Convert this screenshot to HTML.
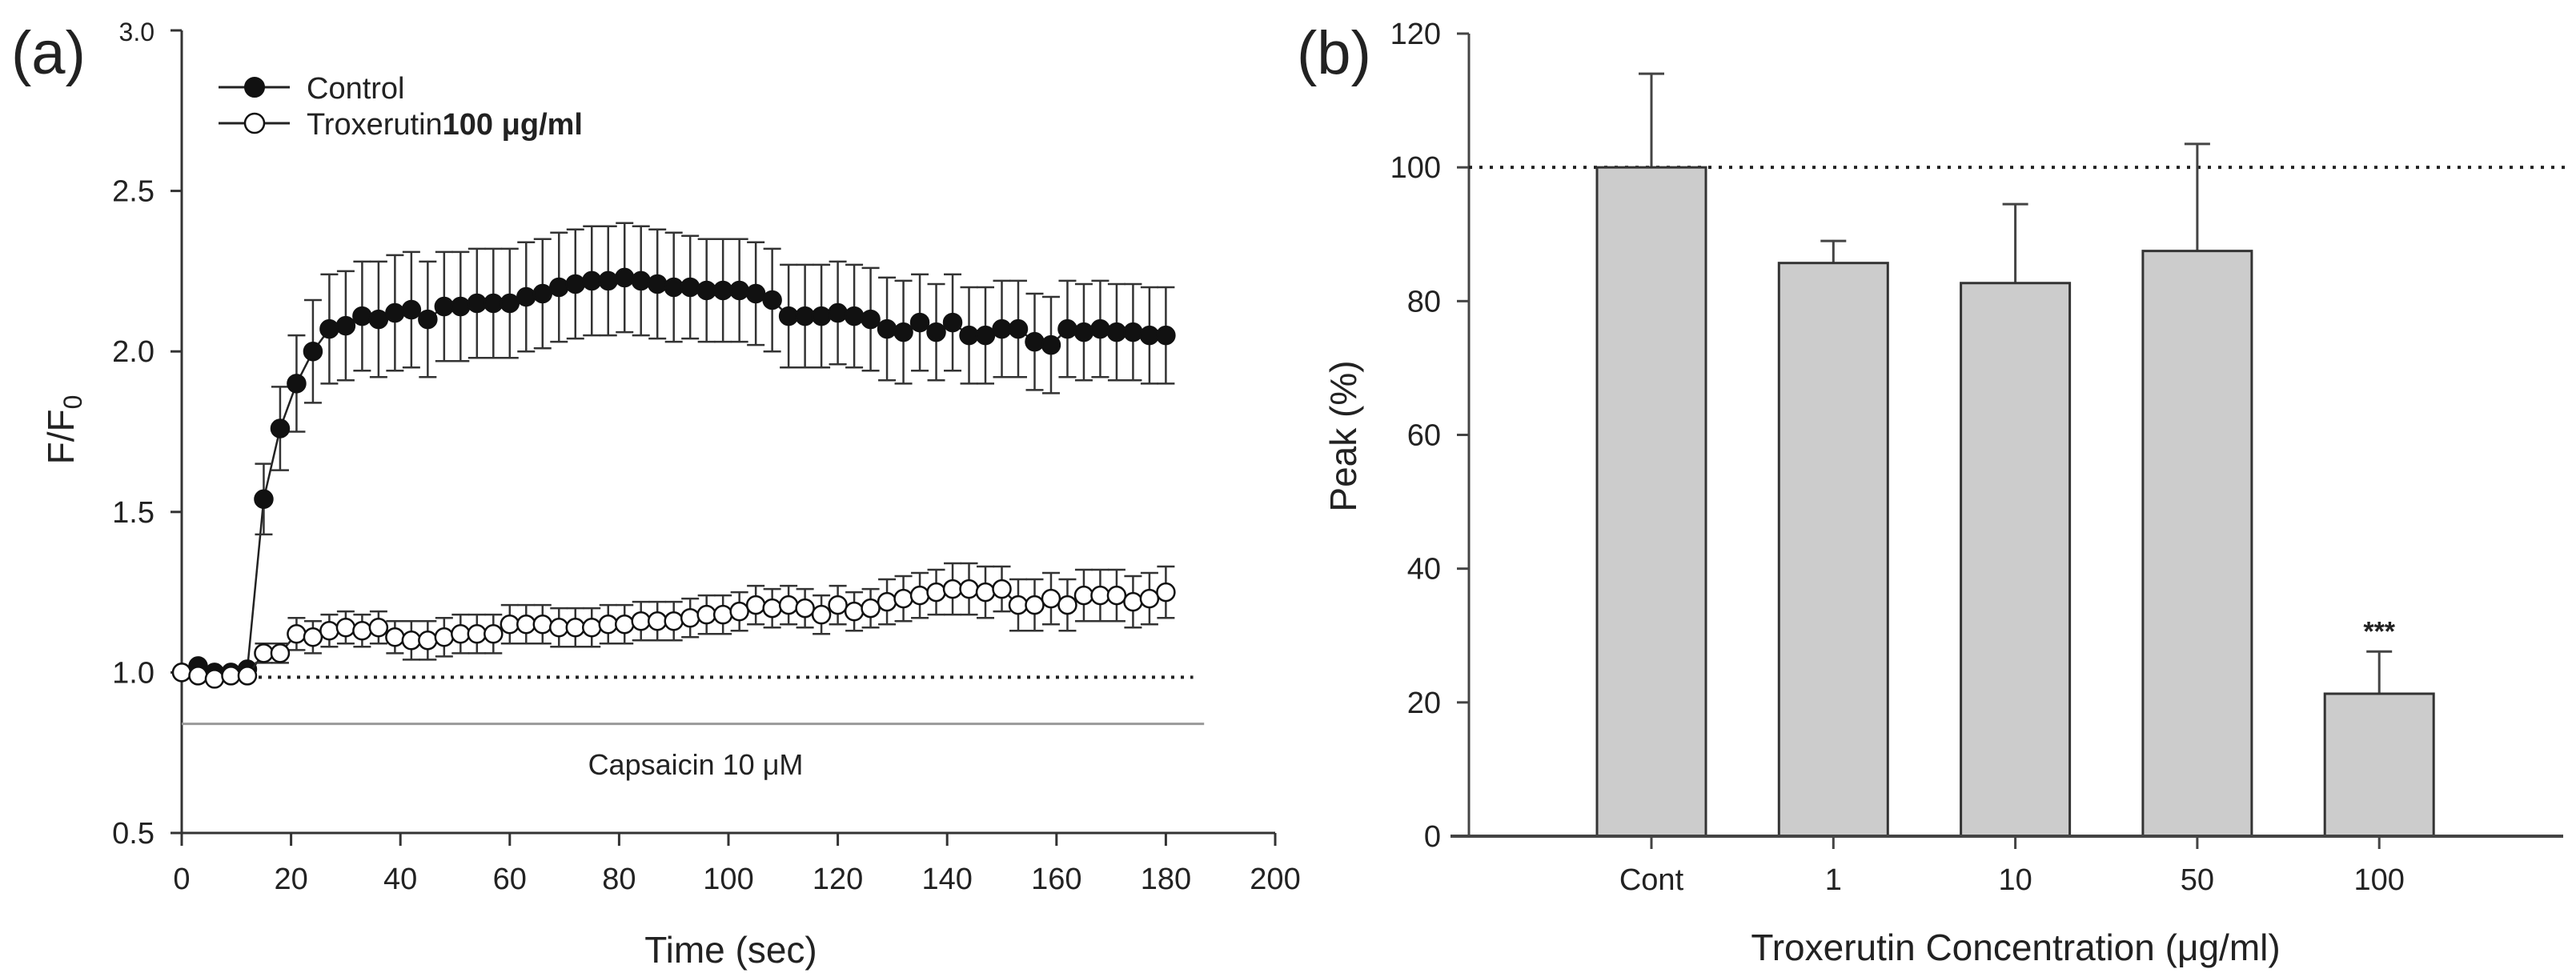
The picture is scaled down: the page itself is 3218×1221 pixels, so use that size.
<!DOCTYPE html>
<html><head><meta charset="utf-8"><style>
body{margin:0;background:#fff;}
svg{display:block;font-family:"Liberation Sans",Arial,sans-serif;}
</style></head><body>
<svg id="fig" width="3218" height="1221" viewBox="0 0 3218 1221" xmlns="http://www.w3.org/2000/svg">
<rect width="3218" height="1221" fill="#fff"/>
<g id="pa"></g>
<g id="pb"></g>
</svg>
<script>
const timeSec = [0,3,6,9,12,15,18,21,24,27,30,33,36,39,42,45,48,51,54,57,60,63,66,69,72,75,78,81,84,87,90,93,96,99,102,105,108,111,114,117,120,123,126,129,132,135,138,141,144,147,150,153,156,159,162,165,168,171,174,177,180];
const controlMean = [1.0,1.02,1.0,1.0,1.01,1.54,1.76,1.90,2.00,2.07,2.08,2.11,2.10,2.12,2.13,2.10,2.14,2.14,2.15,2.15,2.15,2.17,2.18,2.20,2.21,2.22,2.22,2.23,2.22,2.21,2.20,2.20,2.19,2.19,2.19,2.18,2.16,2.11,2.11,2.11,2.12,2.11,2.10,2.07,2.06,2.09,2.06,2.09,2.05,2.05,2.07,2.07,2.03,2.02,2.07,2.06,2.07,2.06,2.06,2.05,2.05];
const controlErr = [0,0,0,0,0,0.11,0.13,0.15,0.16,0.17,0.17,0.17,0.18,0.18,0.18,0.18,0.17,0.17,0.17,0.17,0.17,0.17,0.17,0.17,0.17,0.17,0.17,0.17,0.17,0.17,0.17,0.16,0.16,0.16,0.16,0.16,0.16,0.16,0.16,0.16,0.16,0.16,0.16,0.16,0.16,0.15,0.15,0.15,0.15,0.15,0.15,0.15,0.15,0.15,0.15,0.15,0.15,0.15,0.15,0.15,0.15];
const troxMean = [1.0,0.99,0.98,0.99,0.99,1.06,1.06,1.12,1.11,1.13,1.14,1.13,1.14,1.11,1.10,1.10,1.11,1.12,1.12,1.12,1.15,1.15,1.15,1.14,1.14,1.14,1.15,1.15,1.16,1.16,1.16,1.17,1.18,1.18,1.19,1.21,1.20,1.21,1.20,1.18,1.21,1.19,1.20,1.22,1.23,1.24,1.25,1.26,1.26,1.25,1.26,1.21,1.21,1.23,1.21,1.24,1.24,1.24,1.22,1.23,1.25];
const troxErr = [0,0,0,0,0,0.03,0.03,0.05,0.05,0.05,0.05,0.05,0.05,0.05,0.06,0.06,0.06,0.06,0.06,0.06,0.06,0.06,0.06,0.06,0.06,0.06,0.06,0.06,0.06,0.06,0.06,0.06,0.06,0.06,0.06,0.06,0.06,0.06,0.06,0.06,0.06,0.06,0.06,0.07,0.07,0.07,0.07,0.08,0.08,0.08,0.07,0.08,0.08,0.08,0.08,0.08,0.08,0.08,0.08,0.08,0.08];
const aXTicks = [0,20,40,60,80,100,120,140,160,180,200];
const aYTicks = [0.5,1.0,1.5,2.0,2.5,3.0];
const bCategories = ["Cont","1","10","50","100"];
const bValues = [100,85.7,82.7,87.5,21.3];
const bErrTop = [114,89,94.5,103.5,27.6];
const bYTicks = [0,20,40,60,80,100,120];

const NS="http://www.w3.org/2000/svg";
function mk(parent,tag,attrs,text){const e=document.createElementNS(NS,tag);for(const k in attrs)e.setAttribute(k,attrs[k]);if(text!==undefined)e.textContent=text;parent.appendChild(e);return e;}

// ---------- Panel A ----------
const pa=document.getElementById('pa');
const ax=t=>227+t*(1593-227)/200;
const ay=v=>1041-(v-0.5)*(1041-38)/2.5;
let e;
e=mk(pa,'text',{x:14,y:92,'font-size':76,fill:'#222'},'(a)');


e=mk(pa,'line',{x1:227,y1:38,x2:227,y2:1041,stroke:'#333','stroke-width':3});


e=mk(pa,'line',{x1:213,y1:1041,x2:1593,y2:1041,stroke:'#333','stroke-width':3});


aXTicks.forEach(t=>{
  e=mk(pa,'line',{x1:ax(t),y1:1041,x2:ax(t),y2:1057,stroke:'#333','stroke-width':3});
  
  
  e=mk(pa,'text',{x:ax(t),y:1111,'font-size':38,'text-anchor':'middle',fill:'#222'},String(t));
  
  
});
aYTicks.forEach(v=>{
  e=mk(pa,'line',{x1:213,y1:ay(v),x2:227,y2:ay(v),stroke:'#333','stroke-width':3});
  
  
  e=mk(pa,'text',{x:193,y:ay(v)+13,'font-size':v===3.0?32:38,'text-anchor':'end',fill:'#222'},v.toFixed(1));
  
  
});
e=mk(pa,'text',{x:913,y:1203,'font-size':46,'text-anchor':'middle',fill:'#222'},'Time (sec)');


e=mk(pa,'text',{x:0,y:0,'font-size':46,'text-anchor':'middle',fill:'#222',transform:'translate(92,537) rotate(-90)'});


e.appendChild(document.createTextNode('F/F'));
mk(e,'tspan',{'font-size':32,dy:10},'0');
// baseline dotted
e=mk(pa,'line',{x1:ax(0),y1:ay(0.985),x2:ax(185),y2:ay(0.985),stroke:'#222','stroke-width':4,'stroke-dasharray':'4 8'});


e=mk(pa,'line',{x1:ax(0),y1:ay(0.84),x2:ax(187),y2:ay(0.84),stroke:'#999','stroke-width':3});


e=mk(pa,'text',{x:869,y:968,'font-size':36,'text-anchor':'middle',fill:'#222'},'Capsaicin 10 μM');


function series(mean,err,fill,name){
  const g=mk(pa,'g',{});
  
  
  const pts=timeSec.map((t,i)=>ax(t)+','+ay(mean[i])).join(' ');
  mk(g,'polyline',{points:pts,fill:'none',stroke:'#222','stroke-width':2.5});
  timeSec.forEach((t,i)=>{
    if(err[i]>0){
      const x=ax(t),y1=ay(mean[i]+err[i]),y2=ay(mean[i]-err[i]);
      mk(g,'line',{x1:x,y1:y1,x2:x,y2:y2,stroke:'#333','stroke-width':2.5});
      mk(g,'line',{x1:x-11,y1:y1,x2:x+11,y2:y1,stroke:'#333','stroke-width':2.5});
      mk(g,'line',{x1:x-11,y1:y2,x2:x+11,y2:y2,stroke:'#333','stroke-width':2.5});
    }
  });
  timeSec.forEach((t,i)=>{
    const c=mk(g,'circle',{cx:ax(t),cy:ay(mean[i]),r:11,fill:fill,stroke:'#111','stroke-width':2.5});
    
    
  });
}
series(controlMean,controlErr,'#111','control-series');
series(troxMean,troxErr,'#fff','troxerutin-series');
// legend
const lg=mk(pa,'g',{});


e=mk(lg,'g',{});


mk(e,'line',{x1:273,y1:109,x2:362,y2:109,stroke:'#222','stroke-width':3});
mk(e,'circle',{cx:318,cy:109,r:12,fill:'#111',stroke:'#111','stroke-width':2});
mk(e,'text',{x:383,y:123,'font-size':38,fill:'#222'},'Control');
e=mk(lg,'g',{});


mk(e,'line',{x1:273,y1:154,x2:362,y2:154,stroke:'#222','stroke-width':3});
mk(e,'circle',{cx:318,cy:154,r:12,fill:'#fff',stroke:'#111','stroke-width':2.5});
const lt=mk(e,'text',{x:383,y:168,'font-size':38,fill:'#222'},'Troxerutin');
mk(lt,'tspan',{'font-weight':'bold'},'100 μg/ml');

// ---------- Panel B ----------
const pb=document.getElementById('pb');
const by=v=>1045-v*(1045-42)/120;
const bx=i=>2063+i*227.3;
e=mk(pb,'text',{x:1620,y:92,'font-size':76,fill:'#222'},'(b)');


e=mk(pb,'line',{x1:1835,y1:42,x2:1835,y2:1045,stroke:'#444','stroke-width':3});


bYTicks.forEach(v=>{
  e=mk(pb,'line',{x1:1820,y1:by(v),x2:1835,y2:by(v),stroke:'#444','stroke-width':3});
  
  
  e=mk(pb,'text',{x:1800,y:by(v)+13,'font-size':38,'text-anchor':'end',fill:'#222'},String(v));
  
  
});
e=mk(pb,'line',{x1:1835,y1:by(100),x2:3205,y2:by(100),stroke:'#222','stroke-width':4,'stroke-dasharray':'4 9'});


bCategories.forEach((c,i)=>{
  const cx=bx(i);
  e=mk(pb,'line',{x1:cx,y1:by(bValues[i]),x2:cx,y2:by(bErrTop[i]),stroke:'#444','stroke-width':3});
  
  
  mk(pb,'line',{x1:cx-16,y1:by(bErrTop[i]),x2:cx+16,y2:by(bErrTop[i]),stroke:'#444','stroke-width':3});
  e=mk(pb,'rect',{x:cx-68,y:by(bValues[i]),width:136,height:by(0)-by(bValues[i]),fill:'#cccccc',stroke:'#333','stroke-width':3});
  
  
  e=mk(pb,'line',{x1:cx,y1:1045,x2:cx,y2:1061,stroke:'#444','stroke-width':3});
  
  
  e=mk(pb,'text',{x:cx,y:1112,'font-size':38,'text-anchor':'middle',fill:'#222'},c);
  
  
});
e=mk(pb,'text',{x:bx(4),y:by(bErrTop[4])-14,'font-size':34,'font-weight':'bold','text-anchor':'middle',fill:'#222'},'***');


e=mk(pb,'line',{x1:1812,y1:1045,x2:3202,y2:1045,stroke:'#444','stroke-width':4});


e=mk(pb,'text',{x:2518,y:1200,'font-size':46,'text-anchor':'middle',fill:'#222'},'Troxerutin Concentration (μg/ml)');


e=mk(pb,'text',{x:0,y:0,'font-size':46,'text-anchor':'middle',fill:'#222',transform:'translate(1694,545) rotate(-90)'},'Peak (%)');


</script>
</body></html>
